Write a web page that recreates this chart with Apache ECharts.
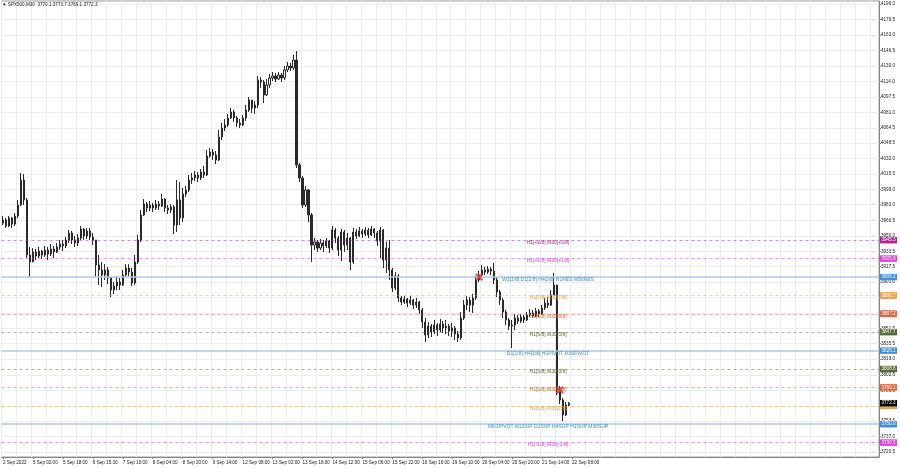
<!DOCTYPE html>
<html><head><meta charset="utf-8">
<script src="https://cdn.jsdelivr.net/npm/echarts@6/dist/echarts.min.js"></script>
<style>html,body{margin:0;padding:0;background:#fff}#c{width:900px;height:468px}</style>
</head><body><div id="c"></div>
<script>
const opens = [
3963.5,3966.7,3960.4,3968.9,3962.5,3971.0,3982.7,4009.2,3988.0,3929.6,
3922.2,3932.8,3928.5,3933.8,3929.6,3934.9,3930.7,3936.0,3932.8,3938.1,
3941.3,3939.2,3945.5,3952.9,3945.5,3942.3,3947.6,3957.2,3949.8,3955.1,
3948.7,3945.5,3919.0,3913.7,3908.4,3913.7,3905.2,3892.4,3896.7,3900.9,
3897.8,3908.4,3915.8,3911.5,3899.9,3922.2,3945.5,3972.1,3983.7,3979.5,
3982.7,3979.5,3983.7,3981.6,3989.0,3979.5,3977.4,3980.5,3961.4,3988.0,
3968.9,3994.3,3998.6,4009.2,4011.3,4014.5,4011.3,4017.7,4014.5,4034.7,
4038.9,4035.7,4030.4,4054.8,4064.4,4067.6,4075.0,4081.4,4075.0,4069.7,
4067.6,4075.0,4083.5,4094.1,4085.6,4088.8,4115.3,4113.2,4099.4,4110.0,
4117.5,4119.6,4116.4,4120.6,4117.5,4126.0,4130.2,4128.1,4136.6,4025.1,
4011.3,3982.7,3998.6,3972.1,3940.2,3943.4,3937.0,3942.3,3939.2,3944.5,
3937.0,3956.1,3947.6,3934.9,3954.0,3940.2,3947.6,3922.2,3954.0,3949.8,
3955.1,3951.9,3956.1,3950.8,3957.2,3952.9,3944.5,3956.1,3924.3,3937.0,
3913.7,3894.6,3907.3,3884.0,3879.7,3882.9,3878.6,3881.8,3876.5,3879.7,
3871.2,3858.5,3844.7,3854.2,3847.9,3855.3,3850.0,3856.4,3852.1,3854.2,
3848.9,3852.1,3845.7,3841.5,3862.7,3876.5,3881.8,3876.5,3884.0,3903.1,
3908.4,3913.7,3911.5,3914.7,3912.6,3903.1,3890.3,3881.8,3869.1,3860.6,
3854.2,3855.3,3862.7,3859.5,3863.8,3860.6,3865.9,3868.0,3864.8,3870.2,
3867.0,3873.3,3878.6,3876.5,3887.1,3897.8,3786.3,3775.7,3759.8,3770.1
];
const closes = [
3966.7,3960.4,3968.9,3962.5,3971.0,3982.7,4009.2,3988.0,3929.6,3922.2,
3932.8,3928.5,3933.8,3929.6,3934.9,3930.7,3936.0,3932.8,3938.1,3941.3,
3939.2,3945.5,3952.9,3945.5,3942.3,3947.6,3957.2,3949.8,3955.1,3948.7,
3945.5,3919.0,3913.7,3908.4,3913.7,3905.2,3892.4,3896.7,3900.9,3897.8,
3908.4,3915.8,3911.5,3899.9,3922.2,3945.5,3972.1,3983.7,3979.5,3982.7,
3979.5,3983.7,3981.6,3989.0,3979.5,3977.4,3980.5,3961.4,3988.0,3968.9,
3994.3,3998.6,4009.2,4011.3,4014.5,4011.3,4017.7,4014.5,4034.7,4038.9,
4035.7,4030.4,4054.8,4064.4,4067.6,4075.0,4081.4,4075.0,4069.7,4067.6,
4075.0,4083.5,4094.1,4085.6,4088.8,4115.3,4113.2,4099.4,4110.0,4117.5,
4119.6,4116.4,4120.6,4117.5,4126.0,4130.2,4128.1,4136.6,4025.1,4011.3,
3982.7,3998.6,3972.1,3940.2,3943.4,3937.0,3942.3,3939.2,3944.5,3937.0,
3956.1,3947.6,3934.9,3954.0,3940.2,3947.6,3922.2,3954.0,3949.8,3955.1,
3951.9,3956.1,3950.8,3957.2,3952.9,3944.5,3956.1,3924.3,3937.0,3913.7,
3894.6,3907.3,3884.0,3879.7,3882.9,3878.6,3881.8,3876.5,3879.7,3871.2,
3858.5,3844.7,3854.2,3847.9,3855.3,3850.0,3856.4,3852.1,3854.2,3848.9,
3852.1,3845.7,3841.5,3862.7,3876.5,3881.8,3876.5,3884.0,3903.1,3908.4,
3913.7,3911.5,3914.7,3912.6,3903.1,3890.3,3881.8,3869.1,3860.6,3854.2,
3855.3,3862.7,3859.5,3863.8,3860.6,3865.9,3868.0,3864.8,3870.2,3867.0,
3873.3,3878.6,3876.5,3887.1,3897.8,3786.3,3775.7,3759.8,3770.4,3772.3
];
const lows = [
3961.4,3958.3,3959.3,3958.3,3960.4,3968.9,3981.6,3982.7,3926.4,3906.2,
3922.2,3924.3,3926.4,3925.3,3927.5,3924.3,3928.5,3926.4,3931.7,3934.9,
3933.8,3937.0,3942.3,3941.3,3938.1,3939.2,3945.5,3945.5,3946.6,3945.5,
3940.2,3906.2,3897.8,3895.6,3903.1,3898.8,3885.0,3888.2,3892.4,3892.4,
3896.7,3906.2,3907.3,3896.7,3897.8,3920.0,3943.4,3971.0,3975.2,3976.3,
3975.2,3977.4,3977.4,3980.5,3975.2,3973.1,3974.2,3951.9,3954.0,3961.4,
3964.6,3991.2,3996.5,4005.0,4008.1,4007.1,4009.2,4011.3,4013.4,4032.6,
4030.4,4026.2,4029.4,4051.7,4061.2,4065.5,4073.9,4070.8,4065.5,4064.4,
4066.5,4071.8,4081.4,4080.3,4079.3,4085.6,4106.9,4090.9,4098.4,4106.9,
4114.3,4113.2,4115.3,4113.2,4115.3,4123.8,4124.9,4126.0,4021.9,4007.1,
3979.5,3980.5,3964.6,3922.2,3934.9,3932.8,3934.9,3932.8,3937.0,3931.7,
3934.9,3942.3,3928.5,3923.2,3932.8,3934.9,3913.7,3920.0,3946.6,3948.7,
3947.6,3949.8,3947.6,3949.8,3947.6,3939.2,3926.4,3915.8,3910.5,3903.1,
3890.3,3892.4,3879.7,3876.5,3877.6,3874.4,3876.5,3872.3,3873.3,3867.0,
3852.1,3837.3,3841.5,3842.6,3845.7,3843.6,3847.9,3846.8,3845.7,3843.6,
3842.6,3839.4,3837.3,3839.4,3860.6,3871.2,3869.1,3868.0,3881.8,3900.9,
3906.2,3908.4,3909.4,3908.4,3898.8,3885.0,3876.5,3862.7,3855.3,3850.0,
3830.9,3850.0,3856.4,3857.4,3857.4,3859.5,3863.8,3862.7,3863.8,3863.8,
3865.9,3871.2,3873.3,3875.5,3887.1,3781.0,3771.4,3753.4,3758.7,3769.1
];
const highs = [
3971.0,3968.9,3971.0,3969.9,3974.2,3988.0,4016.6,4015.6,3990.1,3938.1,
3937.0,3936.0,3938.1,3934.9,3939.2,3938.1,3941.3,3939.2,3942.3,3945.5,
3945.5,3948.7,3956.1,3955.1,3949.8,3951.9,3960.4,3958.3,3958.3,3958.3,
3952.9,3945.5,3929.6,3922.2,3920.0,3916.9,3906.2,3900.9,3907.3,3905.2,
3913.7,3920.0,3920.0,3915.8,3929.6,3950.8,3977.4,3989.0,3985.9,3986.9,
3984.8,3988.0,3986.9,3994.3,3990.1,3982.7,3983.7,3982.7,4009.2,4007.1,
4000.7,4002.8,4014.5,4016.6,4018.8,4017.7,4020.9,4024.1,4041.0,4043.2,
4042.1,4040.0,4062.3,4069.7,4073.9,4079.3,4085.6,4083.5,4077.1,4073.9,
4078.2,4088.8,4097.3,4094.1,4093.0,4119.6,4118.5,4115.3,4116.4,4121.7,
4123.8,4122.8,4123.8,4122.8,4130.2,4134.4,4133.4,4141.9,4146.1,4027.2,
4013.4,4002.8,3999.7,3974.2,3947.6,3945.5,3946.6,3945.5,3947.6,3945.5,
3960.4,3958.3,3949.8,3957.2,3956.1,3952.9,3948.7,3958.3,3957.2,3959.3,
3957.2,3959.3,3958.3,3960.4,3958.3,3955.1,3959.3,3957.2,3943.4,3945.5,
3915.8,3911.5,3909.4,3886.1,3886.1,3884.0,3886.1,3882.9,3884.0,3880.8,
3873.3,3862.7,3858.5,3856.4,3860.6,3857.4,3861.7,3859.5,3860.6,3856.4,
3857.4,3854.2,3848.9,3869.1,3881.8,3886.1,3885.0,3888.2,3907.3,3912.6,
3919.0,3916.9,3917.9,3916.9,3921.1,3905.2,3892.4,3884.0,3871.2,3862.7,
3860.6,3867.0,3865.9,3867.0,3865.9,3869.1,3872.3,3871.2,3873.3,3872.3,
3876.5,3884.0,3885.0,3892.4,3910.5,3897.8,3790.6,3777.8,3773.6,3773.7
];

const timeLabels = ['2 Sep 2022','5 Sep 02:00','5 Sep 18:00','6 Sep 15:30','7 Sep 10:00','8 Sep 04:00','8 Sep 20:00','9 Sep 14:00','12 Sep 08:00','13 Sep 02:00','13 Sep 18:00','14 Sep 12:00','15 Sep 06:00','15 Sep 22:00','16 Sep 16:00','19 Sep 10:00','20 Sep 04:00','20 Sep 20:00','21 Sep 14:00','22 Sep 08:00'];
const timeLabelSlots = [0,10,20,30,40,50,60,70,80,90,100,110,120,130,140,150,160,170,180,190];
const totalSlots = 293;

const priceTicks = [4196.0,4179.5,4163.0,4146.5,4130.0,4114.0,4097.5,4081.0,4064.5,4048.5,4032.0,4015.5,3999.0,3983.0,3966.5,3950.0,3933.5,3917.5,3901.0,3884.5,3868.0,3851.5,3835.5,3819.0,3802.5,3786.0,3769.5,3753.5,3737.0,3720.5];

const levelValues = [3945.3,3925.8,3906.2,3886.7,3867.2,3847.7,3828.1,3808.6,3789.1,3769.5,3750.0,3730.5];
const levelTexts = ['H1[+2/8] M30[+2/8]','H1[+1/8] M30[+1/8]','W1[1/8] D1[2/8] H4[2/8] H1RES M30RES','H1[7/8] M30[7/8]','H1[6/8] M30[6/8]','H1[5/8] M30[5/8]','D1[1/8] H4[1/8] H1PIVOT M30PIVOT','H1[3/8] M30[3/8]','H1[2/8] M30[2/8]','H1[1/8] M30[1/8]','MN1PIVOT W1SUP D1SUP H4SUP H1SUP M30SUP','H1[-1/8] M30[-1/8]'];
const levelColors = ['#b81f94','#e23ce2','#3d8fe0','#f0a040','#e8643c','#5b6b35','#3d8fe0','#5b6b35','#e8643c','#f0a040','#3d8fe0','#e23ce2'];
const levelSolid = [false,false,true,false,false,false,true,false,false,false,true,false];
const levelTextSlot = 182;

const currentPrice = 3772.3;
const titleText = 'SPX500,M30  3770.1 3773.7 3769.1 3772.3';
const markerSlots = [159, 186];
const markerPrices = [3906.2, 3786.3];

const FONT = 'Liberation Sans';
const labelMap = {};
timeLabelSlots.forEach((s, k) => { labelMap[s] = timeLabels[k]; });
const cats = [];
for (let i = 0; i < totalSlots; i++) cats.push(labelMap[i] !== undefined ? labelMap[i] : 's' + i);
const candles = opens.map((o, i) => [o, closes[i], lows[i], highs[i]]);

function fade(hex, a) {
  const n = parseInt(hex.slice(1), 16);
  return 'rgba(' + ((n >> 16) & 255) + ',' + ((n >> 8) & 255) + ',' + (n & 255) + ',' + a + ')';
}
const tagLabel = (txt, bg) => ({ show: true, position: 'end', distance: 1, formatter: txt, backgroundColor: bg, color: '#fff', fontSize: 4.6, fontFamily: FONT, padding: [1, 1.5, 0.5, 1.5] });

const markLineData = levelValues.map((v, k) => ({
  yAxis: v,
  lineStyle: levelSolid[k]
    ? { color: '#acc9ea', width: 1.5, type: 'solid' }
    : { color: fade(levelColors[k], 0.5), width: 1, type: [3, 3] },
  label: tagLabel(v.toFixed(1), levelColors[k])
}));
markLineData.push({
  yAxis: currentPrice,
  lineStyle: { color: 'rgba(0,0,0,0)', width: 0 },
  label: tagLabel(currentPrice.toFixed(1), '#000')
});

const markPointData = levelValues.map((v, k) => ({
  coord: [levelTextSlot, v],
  value: levelTexts[k],
  label: { color: levelColors[k] }
}));

const chart = echarts.init(document.getElementById('c'), null, { renderer: 'canvas' });
chart.setOption({
  animation: false,
  backgroundColor: '#fff',
  title: {
    text: '\u25BC ' + titleText, left: 2, top: 2, padding: 0,
    textStyle: { fontSize: 4.6, fontWeight: 'normal', color: '#222', fontFamily: FONT }
  },
  grid: { left: 0, right: 21, top: 1, bottom: 11, show: true, borderColor: '#999', borderWidth: 1 },
  xAxis: {
    type: 'category', data: cats, boundaryGap: true,
    axisLine: { show: true, lineStyle: { color: '#888', width: 1 } },
    axisTick: { show: true, length: 2, alignWithLabel: true, interval: (i) => labelMap[i] !== undefined, lineStyle: { color: '#888' } },
    axisLabel: { interval: (i) => labelMap[i] !== undefined, formatter: (v, i) => labelMap[i] || '', align: 'left', fontSize: 4.6, color: '#222', fontFamily: FONT, margin: 3 },
    splitLine: { show: true, interval: 4, lineStyle: { color: '#ededed', width: 1 } }
  },
  yAxis: {
    type: 'value', position: 'right', min: 3715.2, max: 4199.2, scale: true,
    axisLine: { show: true, lineStyle: { color: '#888', width: 1 } },
    axisTick: { show: true, length: 2, customValues: priceTicks, lineStyle: { color: '#888' } },
    axisLabel: { customValues: priceTicks, formatter: (v) => v.toFixed(1), fontSize: 4.6, color: '#222', fontFamily: FONT, margin: 2, align: 'left' },
    splitLine: { show: true, lineStyle: { color: '#ededed', width: 1 } }
  },
  series: [
    {
      type: 'candlestick', data: candles, barWidth: 1.6,
      itemStyle: { color: '#ffffff', color0: '#2a2a2a', borderColor: '#2a2a2a', borderColor0: '#2a2a2a', borderWidth: 1 },
      markLine: { symbol: ['none', 'none'], silent: true, animation: false, precision: 1, data: markLineData },
      markPoint: {
        symbol: 'circle', symbolSize: 0, silent: true, animation: false,
        label: { show: true, position: 'inside', formatter: '{c}', fontSize: 5, fontFamily: FONT, offset: [0, 2.5] },
        data: markPointData
      }
    },
    {
      type: 'scatter', z: 5,
      symbol: 'path://M0,2 L2,0 L5,3 L8,0 L10,2 L7,5 L10,8 L8,10 L5,7 L2,10 L0,8 L3,5 Z',
      symbolSize: 8, itemStyle: { color: '#e8322a' },
      data: markerSlots.map((s, k) => [s, markerPrices[k]])
    }
  ]
});
</script></body></html>
